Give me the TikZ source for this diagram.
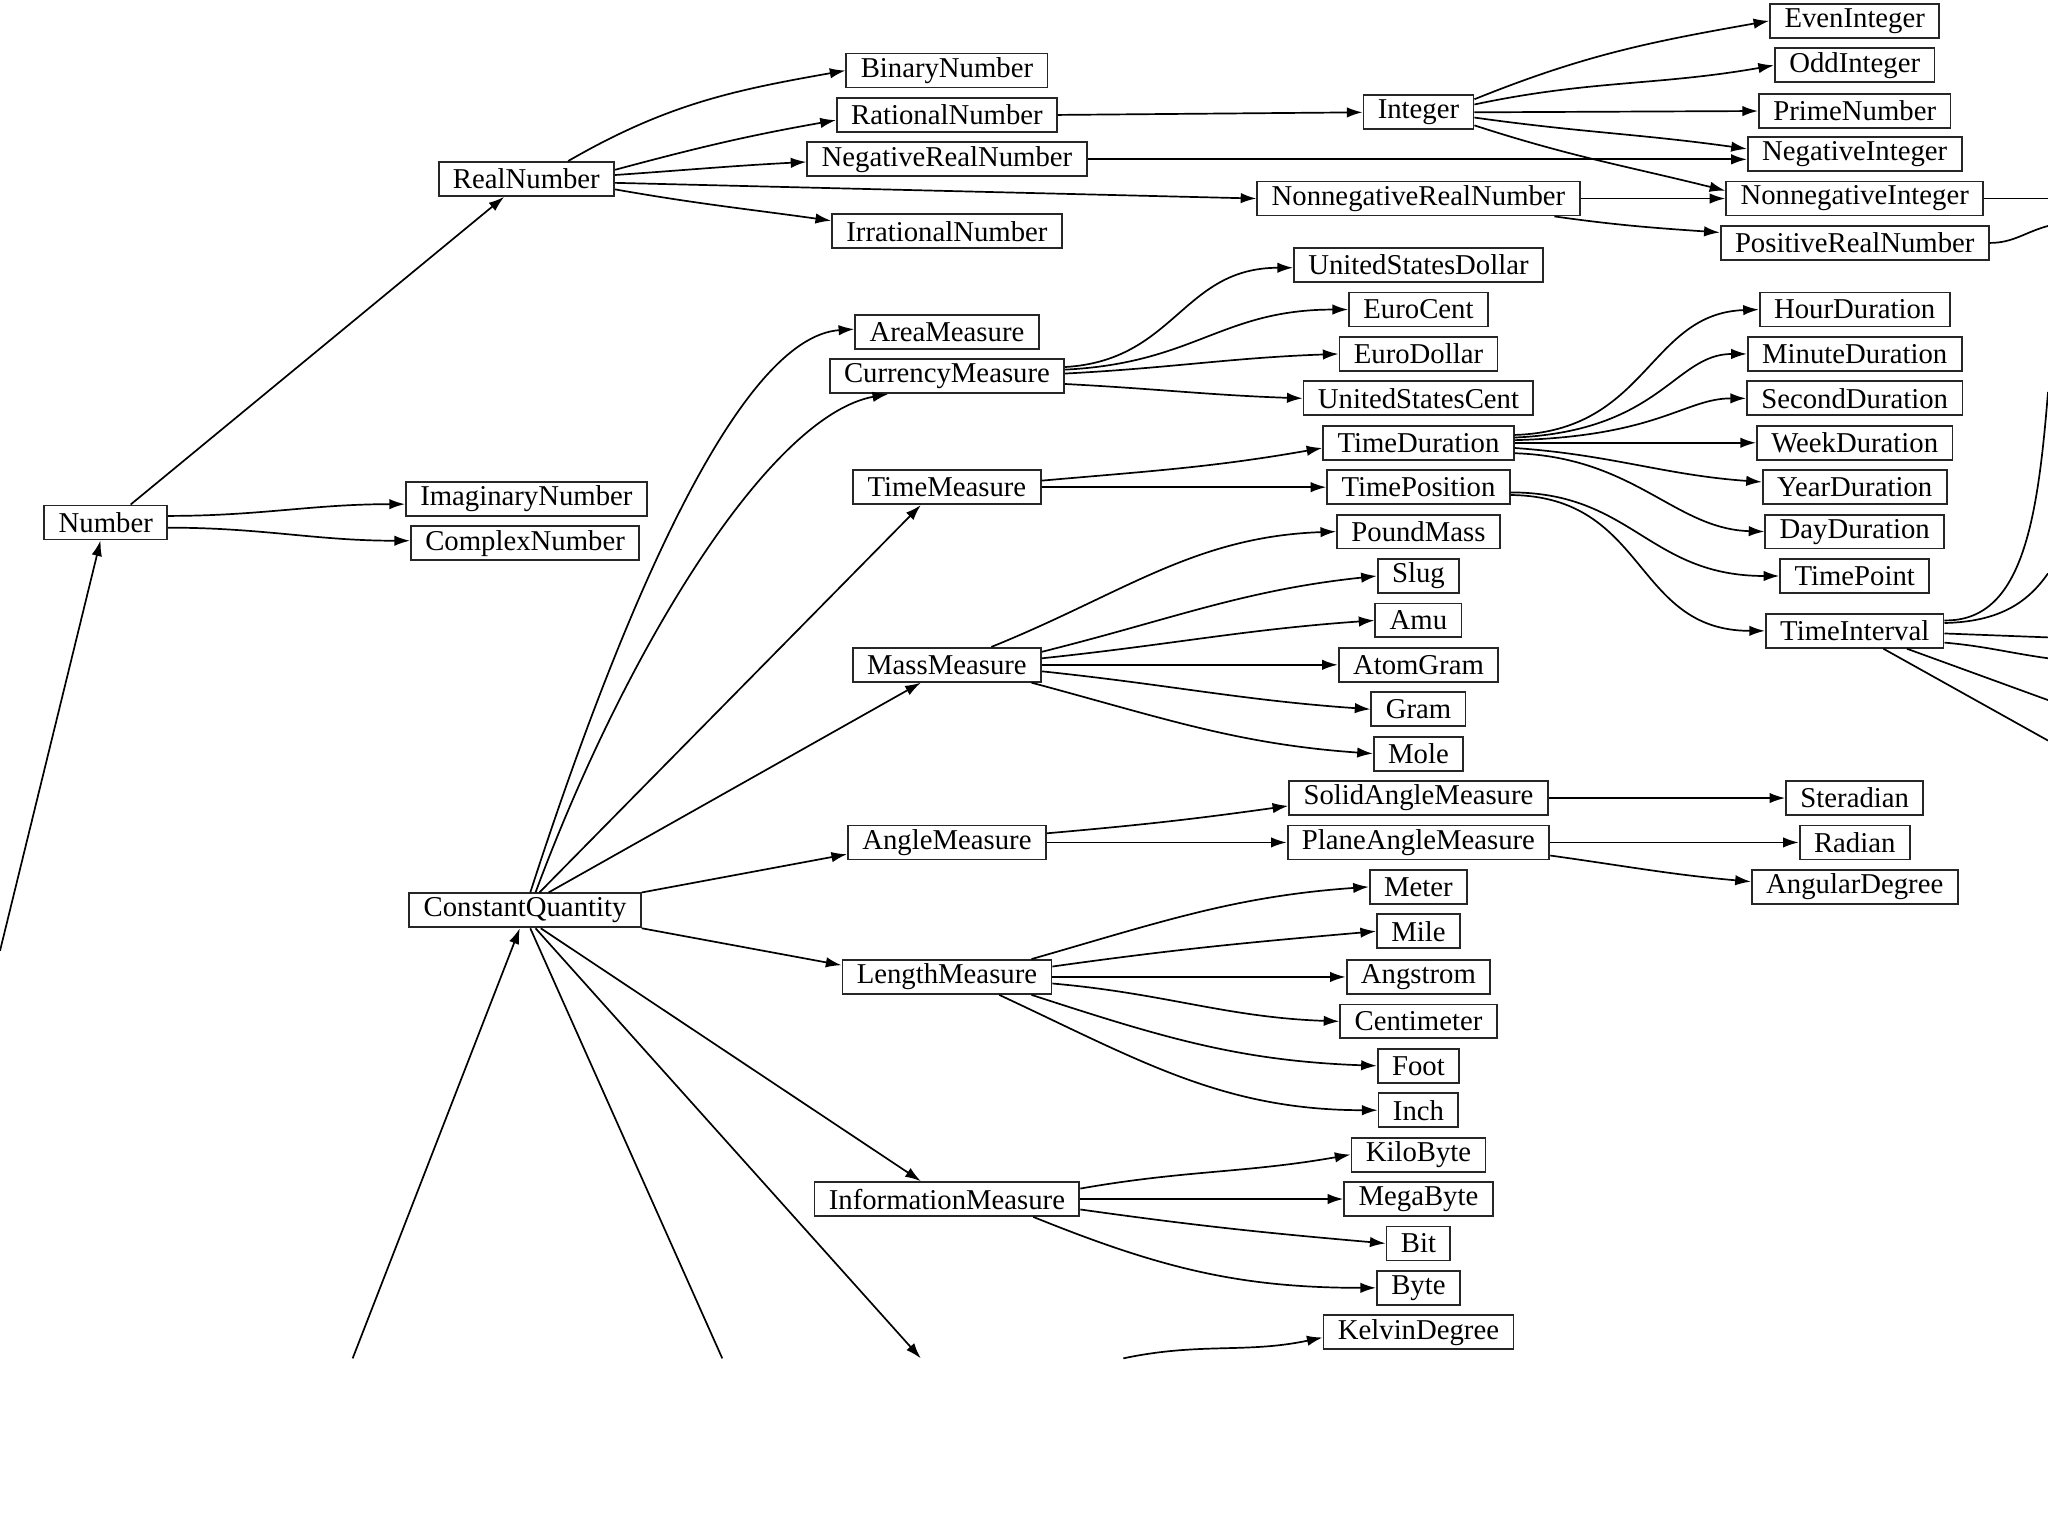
\documentclass[tikz,border=0pt]{standalone}
\usepackage{fontspec}
\setmainfont{Liberation Serif}
\usetikzlibrary{arrows.meta}

\begin{document}
\begin{tikzpicture}[
  x=0.5pt, y=0.5pt,
  box/.style={
    draw=black!85,
    line width=0.7pt,
    font=\fontsize{11}{12}\selectfont,
    inner xsep=5.5pt,
    inner ysep=0pt,
    minimum height=13pt
  },
  arrow/.style={-{Latex[length=6pt,width=4pt]},line width=0.65pt},
  line/.style={line width=0.65pt}
]
  \useasboundingbox (0,0) rectangle (1568,-1176);

  % roots
  \node[box] (Number) at (81,-400) {Number};
  \node[box] (RealNumber) at (403,-137) {RealNumber};
  \node[box] (ImaginaryNumber) at (403,-382) {ImaginaryNumber};
  \node[box] (ComplexNumber) at (402,-416) {ComplexNumber};
  \node[box] (ConstantQuantity) at (402,-697) {ConstantQuantity};

  % second column
  \foreach \n/\y in {BinaryNumber/54, RationalNumber/88, NegativeRealNumber/122,
      IrrationalNumber/177, AreaMeasure/254, CurrencyMeasure/288, TimeMeasure/373,
      MassMeasure/509, AngleMeasure/645, LengthMeasure/748, InformationMeasure/918}
    \node[box] (\n) at (725,-\y) {\n};

  % third column
  \foreach \n/\y in {Integer/86, NonnegativeRealNumber/152, UnitedStatesDollar/203,
      EuroCent/237, EuroDollar/271, UnitedStatesCent/305, TimeDuration/339,
      TimePosition/373, PoundMass/407, Slug/441, Amu/475, AtomGram/509, Gram/543,
      Mole/577, SolidAngleMeasure/611, PlaneAngleMeasure/645, Meter/679, Mile/713,
      Angstrom/748, Centimeter/782, Foot/816, Inch/850, KiloByte/884, MegaByte/918,
      Bit/952, Byte/986, KelvinDegree/1020}
    \node[box] (\n) at (1086,-\y) {\n};

  % fourth column
  \foreach \n/\y in {EvenInteger/16, OddInteger/50, PrimeNumber/85, NegativeInteger/118,
      NonnegativeInteger/152, PositiveRealNumber/186, HourDuration/237,
      MinuteDuration/271, SecondDuration/305, WeekDuration/339, YearDuration/373,
      DayDuration/407, TimePoint/441, TimeInterval/483, Steradian/611, Radian/645,
      AngularDegree/679}
    \node[box] (\n) at (1420,-\y) {\n};

  % loose ends at the cut
  \coordinate (inNumber) at (0,-728);
  \coordinate (inConst) at (270,-1040);
  \coordinate (cutA) at (553,-1040);
  \coordinate (cutB) at (705,-1040);
  \coordinate (cutC) at (860,-1040);
  \coordinate (outNI) at (1568,-152);
  \coordinate (outPR) at (1568,-173);
  \coordinate (outTa) at (1568,-300);
  \coordinate (outTb) at (1568,-439);
  \coordinate (outTc) at (1568,-488);
  \coordinate (outTd) at (1568,-504);
  \coordinate (outTe) at (1568,-536);
  \coordinate (outTf) at (1568,-567);

  % Number
  \draw[arrow] (inNumber) -- ([xshift=-2pt]Number.south);
  \draw[arrow] ([xshift=9.5pt]Number.north) -- ([xshift=-8.5pt]RealNumber.south);
  \draw[arrow] ([yshift=2.5pt]Number.east) to[out=0,in=180] ([yshift=-2pt]ImaginaryNumber.west);
  \draw[arrow] ([yshift=-2pt]Number.east) to[out=0,in=180] ([yshift=1pt]ComplexNumber.west);

  % RealNumber
  \draw[arrow] ([xshift=16pt]RealNumber.north) to[out=30,in=190] (BinaryNumber.west);
  \draw[arrow] ([yshift=3.5pt]RealNumber.east) to[out=15,in=190] ([yshift=-2pt]RationalNumber.west);
  \draw[arrow] ([yshift=1.5pt]RealNumber.east) to[out=4,in=183] ([yshift=-1pt]NegativeRealNumber.west);
  \draw[arrow] ([yshift=-1.5pt]RealNumber.east) -- (NonnegativeRealNumber.west);
  \draw[arrow] ([yshift=-4pt]RealNumber.east) to[out=-10,in=172] ([yshift=4pt]IrrationalNumber.west);
  \draw[arrow] (RationalNumber.east) -- (Integer.west);
  \draw[arrow] (NegativeRealNumber.east) -- ([yshift=-2pt]NegativeInteger.west);

  % Integer
  \draw[arrow] ([yshift=5pt]Integer.east) to[out=22,in=190] (EvenInteger.west);
  \draw[arrow] ([yshift=3pt]Integer.east) to[out=12,in=190] (OddInteger.west);
  \draw[arrow] (Integer.east) -- (PrimeNumber.west);
  \draw[arrow] ([yshift=-2pt]Integer.east) to[out=-8,in=172] ([yshift=2pt]NegativeInteger.west);
  \draw[arrow] ([yshift=-5pt]Integer.east) to[out=-18,in=166] ([yshift=3pt]NonnegativeInteger.west);
  \draw[arrow] (NonnegativeRealNumber.east) -- (NonnegativeInteger.west);
  \draw[arrow] ([xshift=-10pt]NonnegativeRealNumber.south east) to[out=-8,in=176] ([yshift=4pt]PositiveRealNumber.west);
  \draw[line] (NonnegativeInteger.east) -- (outNI);
  \draw[line] (PositiveRealNumber.east) to[out=0,in=195] (outPR);

  % ConstantQuantity
  \draw[arrow] (inConst) -- ([xshift=-2pt]ConstantQuantity.south);
  \draw[arrow] ([xshift=2pt]ConstantQuantity.north) .. controls (475,-470) and (565,-258) .. ([yshift=1pt]AreaMeasure.west);
  \draw[arrow] ([xshift=4pt]ConstantQuantity.north) .. controls (480,-495) and (590,-318) .. ([xshift=-22.5pt]CurrencyMeasure.south);
  \draw[arrow] ([xshift=5.5pt]ConstantQuantity.north) -- ([xshift=-10pt]TimeMeasure.south);
  \draw[arrow] ([xshift=9pt]ConstantQuantity.north) -- ([xshift=-10pt]MassMeasure.south);
  \draw[arrow] (ConstantQuantity.north east) -- ([yshift=-4.5pt]AngleMeasure.west);
  \draw[arrow] (ConstantQuantity.south east) -- ([yshift=4.5pt]LengthMeasure.west);
  \draw[arrow] ([xshift=6pt]ConstantQuantity.south) -- ([xshift=-10pt]InformationMeasure.north);
  \draw[line] ([xshift=2pt]ConstantQuantity.south) -- (cutA);
  \draw[arrow] ([xshift=4pt]ConstantQuantity.south) -- (cutB);
  \draw[arrow] (cutC) to[out=12,in=192] ([yshift=-2pt]KelvinDegree.west);

  % CurrencyMeasure
  \draw[arrow] ([yshift=3.5pt]CurrencyMeasure.east) .. controls (900,-276) and (905,-205) .. ([yshift=-1pt]UnitedStatesDollar.west);
  \draw[arrow] ([yshift=2.5pt]CurrencyMeasure.east) .. controls (915,-278) and (935,-237) .. (EuroCent.west);
  \draw[arrow] ([yshift=1pt]CurrencyMeasure.east) to[out=3,in=182] (EuroDollar.west);
  \draw[arrow] ([yshift=-3pt]CurrencyMeasure.east) to[out=-3,in=178] (UnitedStatesCent.west);

  % TimeMeasure
  \draw[arrow] ([yshift=2.5pt]TimeMeasure.east) to[out=5,in=190] ([yshift=-2pt]TimeDuration.west);
  \draw[arrow] (TimeMeasure.east) -- (TimePosition.west);

  % TimeDuration
  \draw[arrow] ([yshift=3pt]TimeDuration.east) .. controls (1262,-330) and (1262,-240) .. (HourDuration.west);
  \draw[arrow] ([yshift=2pt]TimeDuration.east) .. controls (1272,-330) and (1282,-271) .. (MinuteDuration.west);
  \draw[arrow] ([yshift=1pt]TimeDuration.east) .. controls (1270,-334) and (1290,-305) .. (SecondDuration.west);
  \draw[arrow] (TimeDuration.east) -- (WeekDuration.west);
  \draw[arrow] ([yshift=-2pt]TimeDuration.east) to[out=-4,in=176] ([yshift=2pt]YearDuration.west);
  \draw[arrow] ([yshift=-4pt]TimeDuration.east) .. controls (1252,-350) and (1282,-405) .. (DayDuration.west);

  % TimePosition
  \draw[arrow] ([yshift=-2pt]TimePosition.east) .. controls (1250,-377) and (1262,-441) .. (TimePoint.west);
  \draw[arrow] ([yshift=-3pt]TimePosition.east) .. controls (1262,-380) and (1250,-483) .. (TimeInterval.west);

  % TimeInterval
  \draw[line] ([yshift=4pt]TimeInterval.east) .. controls (1548,-476) and (1560,-400) .. (outTa);
  \draw[line] ([yshift=3pt]TimeInterval.east) .. controls (1530,-476) and (1552,-462) .. (outTb);
  \draw[line] ([yshift=-1pt]TimeInterval.east) -- (outTc);
  \draw[line] ([yshift=-4.5pt]TimeInterval.east) to[out=-5,in=172] (outTd);
  \draw[line] ([xshift=20pt]TimeInterval.south) -- (outTe);
  \draw[line] ([xshift=11pt]TimeInterval.south) -- (outTf);

  % MassMeasure
  \draw[arrow] ([xshift=17pt]MassMeasure.north) to[out=22,in=182] (PoundMass.west);
  \draw[arrow] ([yshift=5pt]MassMeasure.east) to[out=14,in=186] (Slug.west);
  \draw[arrow] ([yshift=2.5pt]MassMeasure.east) to[out=6,in=184] (Amu.west);
  \draw[arrow] (MassMeasure.east) -- (AtomGram.west);
  \draw[arrow] ([yshift=-2.5pt]MassMeasure.east) to[out=-6,in=176] (Gram.west);
  \draw[arrow] ([xshift=-4pt]MassMeasure.south east) to[out=-15,in=176] (Mole.west);

  % AngleMeasure
  \draw[arrow] ([yshift=3.5pt]AngleMeasure.east) to[out=5,in=188] ([yshift=-3pt]SolidAngleMeasure.west);
  \draw[arrow] (AngleMeasure.east) -- (PlaneAngleMeasure.west);
  \draw[arrow] (SolidAngleMeasure.east) -- (Steradian.west);
  \draw[arrow] (PlaneAngleMeasure.east) -- (Radian.west);
  \draw[arrow] ([yshift=-5pt]PlaneAngleMeasure.east) to[out=-8,in=175] ([yshift=2pt]AngularDegree.west);

  % LengthMeasure
  \draw[arrow] ([xshift=-8pt]LengthMeasure.north east) to[out=16,in=184] (Meter.west);
  \draw[arrow] ([yshift=4pt]LengthMeasure.east) to[out=8,in=185] (Mile.west);
  \draw[arrow] (LengthMeasure.east) -- (Angstrom.west);
  \draw[arrow] ([yshift=-2.5pt]LengthMeasure.east) to[out=-5,in=178] (Centimeter.west);
  \draw[arrow] ([xshift=-8pt]LengthMeasure.south east) to[out=-18,in=178] (Foot.west);
  \draw[arrow] ([xshift=20pt]LengthMeasure.south) to[out=-25,in=180] (Inch.west);

  % InformationMeasure
  \draw[arrow] ([yshift=4pt]InformationMeasure.east) to[out=10,in=190] (KiloByte.west);
  \draw[arrow] (InformationMeasure.east) -- (MegaByte.west);
  \draw[arrow] ([yshift=-4pt]InformationMeasure.east) to[out=-8,in=175] (Bit.west);
  \draw[arrow] ([xshift=-18pt]InformationMeasure.south east) to[out=-22,in=180] (Byte.west);
\end{tikzpicture}
\end{document}
